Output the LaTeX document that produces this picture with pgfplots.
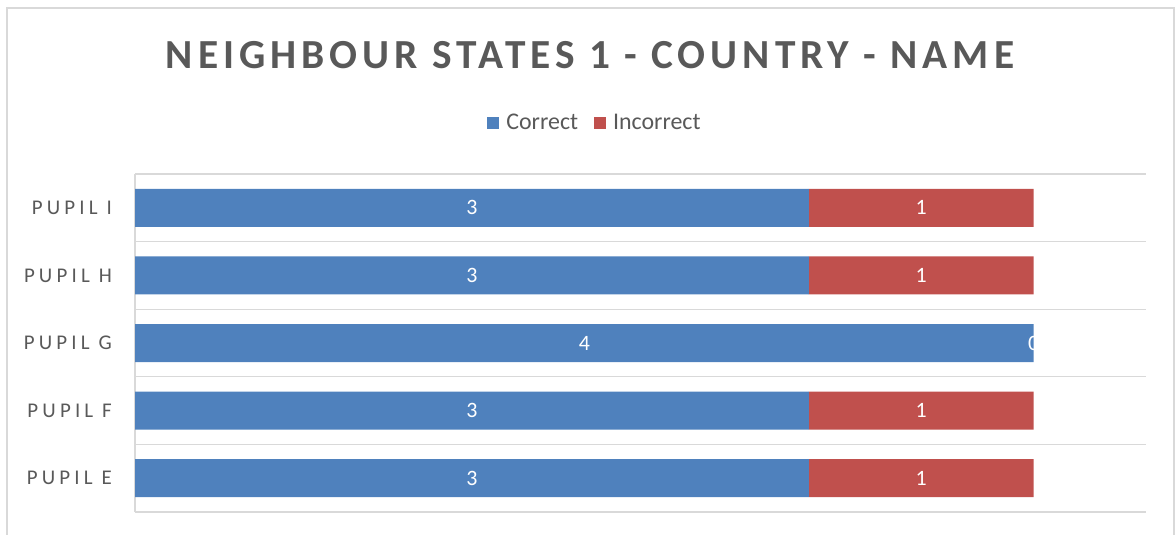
\documentclass[border=0pt]{standalone}
\usepackage{pgfplots}
\pgfplotsset{compat=1.18}
\usepackage{fontspec}
\setmainfont{Carlito}
\definecolor{barblue}{HTML}{4F81BD}
\definecolor{barred}{HTML}{C0504D}
\definecolor{gridgray}{HTML}{D9D9D9}
\definecolor{txtgray}{HTML}{595959}

\pgfplotsset{
  panel/.style={
    at={(135bp,-512bp)}, anchor=south west,
    scale only axis, width=1011bp, height=338bp,
    xmin=0, xmax=4.5, ymin=-0.5, ymax=4.5,
  },
}

\begin{document}
\begin{tikzpicture}
\useasboundingbox (0,0) rectangle (1176bp,-535bp);
\draw[gridgray, line width=1.5bp] (7bp,-8bp) rectangle (1174bp,-560bp);
\node[font=\fontsize{41.5}{41.5}\selectfont\bfseries\addfontfeature{LetterSpace=12},
      text=txtgray] at (590bp,-55bp) {NEIGHBOUR STATES 1 - COUNTRY - NAME};

\begin{axis}[
  panel,
  xbar stacked, bar width=38bp,
  xtick=\empty,
  ytick={0,...,4},
  yticklabels={PUPIL E,PUPIL F,PUPIL G,PUPIL H,PUPIL I},
  yticklabel style={font=\fontsize{21}{21}\selectfont\addfontfeature{LetterSpace=20},
                    text=txtgray, inner sep=0pt, xshift=-23bp},
  major tick length=0, minor tick length=0,
  minor ytick={-0.5,0.5,...,4.5},
  yminorgrids=true,
  minor grid style={gridgray, line width=1.2bp},
  axis x line=none,
  axis y line*=left,
  y axis line style={gridgray, line width=1.2bp, -},
  legend style={at={(0.455,1.151)}, anchor=center, draw=none,
                legend columns=2, font=\fontsize{24}{24}\selectfont,
                text=txtgray,
                /tikz/every odd column/.append style={column sep=5bp},
                /tikz/every even column/.append style={column sep=14bp}},
  legend image code/.code={\fill[#1] (0bp,-6bp) rectangle (12bp,6bp);},
]
\addplot[fill=barblue, draw=none] coordinates {(3,0) (3,1) (4,2) (3,3) (3,4)};
\addlegendentry{Correct}
\addplot[fill=barred, draw=none] coordinates {(1,0) (1,1) (0,2) (1,3) (1,4)};
\addlegendentry{Incorrect}
\end{axis}

% value labels, centred on each segment
\begin{axis}[panel, hide axis]
\addplot[only marks, mark=none, point meta=explicit symbolic,
  nodes near coords,
  every node near coord/.style={anchor=center, text=white,
    font=\fontsize{22}{22}\selectfont}]
  coordinates {
    (1.5,0) [3] (1.5,1) [3] (2,2) [4] (1.5,3) [3] (1.5,4) [3]
    (3.5,0) [1] (3.5,1) [1] (4,2) [0] (3.5,3) [1] (3.5,4) [1]
  };
\end{axis}
\end{tikzpicture}
\end{document}
